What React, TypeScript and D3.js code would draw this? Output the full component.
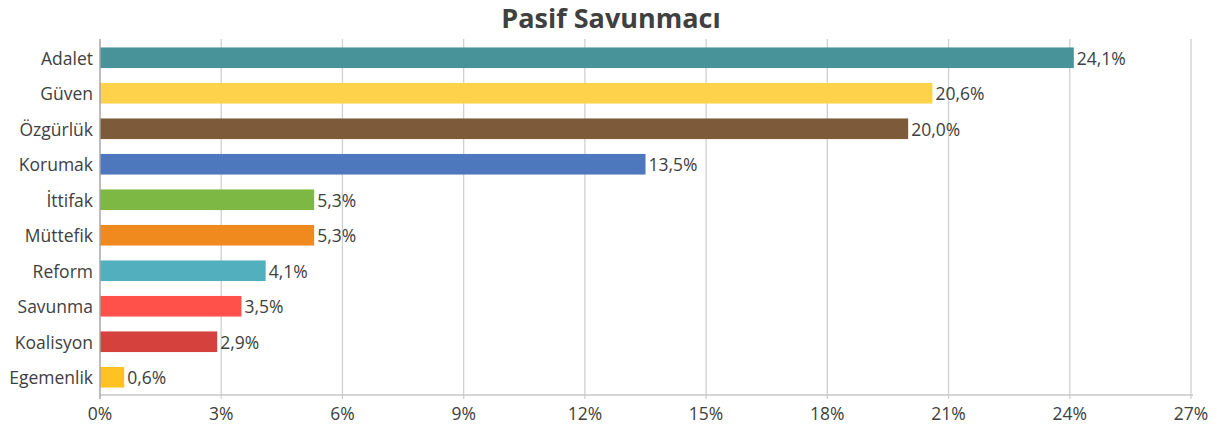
import { useEffect, useRef } from 'react';
import * as d3 from 'd3';

const categories = ['Adalet', 'Güven', 'Özgürlük', 'Korumak', 'İttifak', 'Müttefik', 'Reform', 'Savunma', 'Koalisyon', 'Egemenlik'];
const values = [24.1, 20.6, 20.0, 13.5, 5.3, 5.3, 4.1, 3.5, 2.9, 0.6];
const colors = ['#48939A', '#FFD24C', '#7D5A3A', '#4D78BE', '#7CB843', '#F18A1E', '#52AFBD', '#FF5049', '#D5413C', '#FFC222'];
const ticks = [0, 3, 6, 9, 12, 15, 18, 21, 24, 27];

const W = 1222;
const H = 430;
const FONT = "'Open Sans', 'Noto Sans', sans-serif";

export default function App() {
  const svgRef = useRef<SVGSVGElement>(null);

  useEffect(() => {
    if (!svgRef.current) return;
    const svg = d3.select(svgRef.current);
    svg.selectAll('*').remove();

    const margin = { top: 40, right: 31, bottom: 35, left: 100 };
    const innerWidth = W - margin.left - margin.right;
    const innerHeight = H - margin.top - margin.bottom;

    const x = d3.scaleLinear().domain([0, 27]).range([0, innerWidth]);
    const y = d3.scaleBand().domain(categories).range([0, innerHeight]).padding(0.42).paddingOuter(0.21);

    svg.append('text')
      .attr('x', W / 2)
      .attr('y', 28)
      .attr('text-anchor', 'middle')
      .style('font-family', FONT)
      .style('font-size', '27px')
      .style('font-weight', 'bold')
      .style('fill', '#404040')
      .text('Pasif Savunmacı');

    const g = svg.append('g').attr('transform', `translate(${margin.left},${margin.top})`);

    // gridlines
    g.selectAll('.grid')
      .data(ticks.slice(1))
      .enter()
      .append('line')
      .attr('x1', (d) => x(d))
      .attr('x2', (d) => x(d))
      .attr('y1', -1)
      .attr('y2', innerHeight + 4)
      .attr('stroke', '#d0d0d0')
      .attr('stroke-width', 1.3);

    // bars
    g.selectAll('.bar')
      .data(values)
      .enter()
      .append('rect')
      .attr('x', 0)
      .attr('y', (d, i) => y(categories[i]) || 0)
      .attr('width', (d) => x(d))
      .attr('height', y.bandwidth())
      .attr('fill', (d, i) => colors[i]);

    // value labels
    g.selectAll('.val')
      .data(values)
      .enter()
      .append('text')
      .attr('x', (d) => x(d) + 3)
      .attr('y', (d, i) => (y(categories[i]) || 0) + y.bandwidth() / 2)
      .attr('dominant-baseline', 'central')
      .style('font-family', FONT)
      .style('font-size', '17.5px')
      .style('fill', '#404040')
      .text((d) => d.toFixed(1).replace('.', ',') + '%');

    // axes lines
    g.append('line')
      .attr('x1', 0).attr('x2', innerWidth + 2)
      .attr('y1', innerHeight).attr('y2', innerHeight)
      .attr('stroke', '#c8c8c8').attr('stroke-width', 1.3);
    g.append('line')
      .attr('x1', 0).attr('x2', 0)
      .attr('y1', -1).attr('y2', innerHeight + 4)
      .attr('stroke', '#a6a6a6').attr('stroke-width', 1.5);

    // category labels
    g.selectAll('.cat')
      .data(categories)
      .enter()
      .append('text')
      .attr('x', -7)
      .attr('y', (d) => (y(d) || 0) + y.bandwidth() / 2)
      .attr('text-anchor', 'end')
      .attr('dominant-baseline', 'central')
      .style('font-family', FONT)
      .style('font-size', '17.5px')
      .style('fill', '#404040')
      .text((d) => d);

    // tick labels
    g.selectAll('.tick-label')
      .data(ticks)
      .enter()
      .append('text')
      .attr('x', (d) => x(d))
      .attr('y', innerHeight + 18)
      .attr('text-anchor', 'middle')
      .attr('dominant-baseline', 'central')
      .style('font-family', FONT)
      .style('font-size', '17.5px')
      .style('fill', '#404040')
      .text((d) => `${d}%`);
  }, []);

  return (
    <svg
      ref={svgRef}
      width={W}
      height={H}
      style={{ position: 'absolute', left: 0, top: 0, background: '#fff' }}
    />
  );
}
